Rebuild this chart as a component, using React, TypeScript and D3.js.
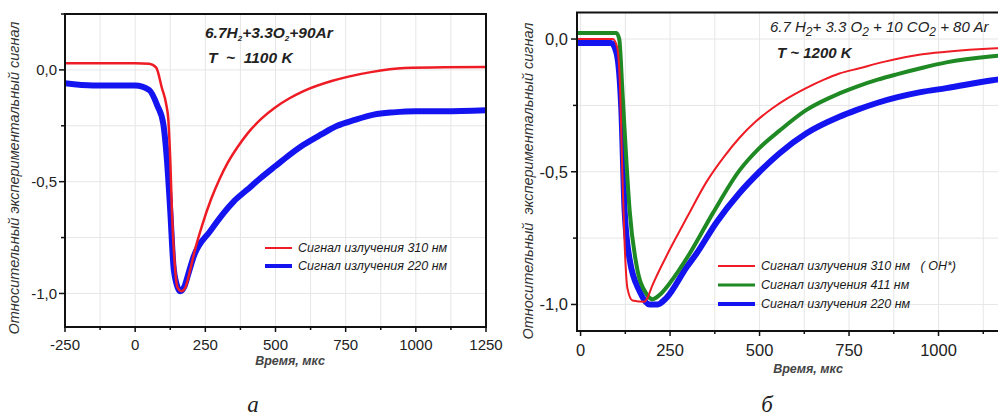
import { useEffect, useRef } from "react";
import * as d3 from "d3";

type Pt = [number, number];

// time (мкс), relative signal
const LEFT_310: Pt[] = [
  [-250, 0.03], [0, 0.03], [50, 0.028], [75, 0.01], [95, -0.08], [110, -0.15],
  [118, -0.22], [125, -0.4], [131, -0.63], [143, -0.9], [150, -0.97], [165, -0.99],
  [180, -0.97], [195, -0.9], [210, -0.82], [240, -0.69], [270, -0.58], [300, -0.49],
  [330, -0.415], [365, -0.345], [400, -0.285], [450, -0.218], [500, -0.167], [550, -0.127],
  [600, -0.095], [700, -0.05], [760, -0.03], [840, -0.01], [960, 0.008], [1100, 0.012],
  [1250, 0.013],
];
const LEFT_220: Pt[] = [
  [-250, -0.06], [-150, -0.07], [-50, -0.07], [0, -0.07], [50, -0.09], [79, -0.16],
  [100, -0.24], [113, -0.4], [125, -0.63], [136, -0.87], [148, -0.96], [160, -0.99],
  [175, -0.97], [190, -0.91], [207, -0.84], [268, -0.72], [350, -0.59], [400, -0.535],
  [446, -0.485], [500, -0.43], [550, -0.38], [600, -0.335], [661, -0.29], [720, -0.25],
  [779, -0.225], [850, -0.2], [920, -0.19], [1000, -0.185], [1100, -0.185], [1250, -0.18],
];
const RIGHT_310: Pt[] = [
  [-10, 0], [90, 0], [102, -0.03], [109, -0.14], [117, -0.52], [123, -0.77],
  [131, -0.94], [145, -0.985], [179, -0.99], [185, -0.98], [200, -0.93], [239, -0.82],
  [270, -0.74], [300, -0.665], [351, -0.54], [400, -0.445], [444, -0.372], [490, -0.31],
  [537, -0.26], [580, -0.222], [630, -0.185], [680, -0.153], [723, -0.13], [779, -0.11],
  [850, -0.085], [950, -0.058], [1022, -0.048], [1162, -0.035], [1250, -0.03],
];
const RIGHT_411: Pt[] = [
  [-10, 0.023], [100, 0.023], [108, 0.0], [117, -0.2], [128, -0.46], [137, -0.645],
  [156, -0.85], [184, -0.96], [201, -0.98], [220, -0.965], [249, -0.92], [304, -0.81],
  [370, -0.655], [444, -0.495], [500, -0.41], [556, -0.345], [630, -0.268], [723, -0.205],
  [770, -0.18], [830, -0.153], [883, -0.133], [950, -0.11], [1022, -0.088], [1151, -0.065],
  [1250, -0.055],
];
const RIGHT_220: Pt[] = [
  [-10, -0.015], [85, -0.015], [100, -0.05], [114, -0.27], [123, -0.645], [137, -0.83],
  [165, -0.95], [193, -1.0], [215, -1.0], [240, -0.975], [296, -0.86], [323, -0.81],
  [380, -0.69], [444, -0.58], [500, -0.5], [556, -0.43], [630, -0.356], [723, -0.293],
  [770, -0.268], [830, -0.24], [883, -0.22], [950, -0.2], [1022, -0.185], [1151, -0.155],
  [1250, -0.14],
];

const LEFT_X_TICKS = [-250, 0, 250, 500, 750, 1000, 1250];
const RIGHT_X_TICKS = [0, 250, 500, 750, 1000];
const Y_TICKS = [0, -0.5, -1];
const LEFT_LEGEND = ["Сигнал излучения 310 нм", "Сигнал излучения 220 нм"];
const RIGHT_LEGEND = ["Сигнал излучения 310 нм   ( OH*)", "Сигнал излучения 411 нм", "Сигнал излучения 220 нм"];

const RED = "#ee1c24";
const BLUE = "#1414f0";
const GREEN = "#1f8a24";
const SANS = "'Liberation Sans', Arial, sans-serif";

const fmtY = (d: number) => d3.format(".1f")(d).replace("−", "-").replace(".", ",");

export default function App() {
  const svgRef = useRef<SVGSVGElement>(null);

  useEffect(() => {
    if (!svgRef.current) return;
    const svg = d3.select(svgRef.current);
    svg.selectAll("*").remove();

    const panels = [
      {
        id: "a",
        x: d3.scaleLinear().domain([-250, 1250]).range([65, 486]),
        y: d3.scaleLinear().domain([-1.15, 0.25]).range([327, 14]),
        xTicks: LEFT_X_TICKS,
        tickSize: 15,
        yLabelX: 57,
        series: [
          { data: LEFT_310, color: RED, w: 2.5 },
          { data: LEFT_220, color: BLUE, w: 6 },
        ],
        legend: LEFT_LEGEND.map((t, i) => ({ text: t, color: [RED, BLUE][i], w: [2, 4][i] })),
        legX: 265, legLen: 27, legY: 248, legDy: 18, legFont: 12.5,
        titleX: 290, titleY: 365, yTitleX: 19, yTitleY: 178,
        yTitle: "Относительный экспериментальный сигнал",
        tickLabelY: 350,
        panelLabel: "а", panelX: 253,
      },
      {
        id: "b",
        x: d3.scaleLinear().domain([-10, 1250]).range([577, 1028]),
        y: d3.scaleLinear().domain([-1.1, 0.1]).range([331, 12.5]),
        xTicks: RIGHT_X_TICKS,
        tickSize: 16.5,
        yLabelX: 568,
        series: [
          { data: RIGHT_310, color: RED, w: 2 },
          { data: RIGHT_411, color: GREEN, w: 4 },
          { data: RIGHT_220, color: BLUE, w: 6 },
        ],
        legend: RIGHT_LEGEND.map((t, i) => ({ text: t, color: [RED, GREEN, BLUE][i], w: [2, 3, 4][i] })),
        legX: 718, legLen: 37, legY: 266, legDy: 19, legFont: 12.5,
        titleX: 808, titleY: 373, yTitleX: 533, yTitleY: 181,
        yTitle: "Относительный  экспериментальный сигнал",
        tickLabelY: 356,
        panelLabel: "б", panelX: 767,
      },
    ];

    panels.forEach((p) => {
      const [x0, x1] = p.x.range();
      const [y1, y0] = p.y.range();
      const g = svg.append("g");

      g.append("clipPath").attr("id", `clip-${p.id}`)
        .append("rect").attr("x", x0).attr("y", y0).attr("width", x1 - x0).attr("height", y1 - y0);

      // grid every 125 / 0.25
      const [dx0, dx1] = p.x.domain();
      const gx = d3.range(Math.ceil(dx0 / 125) * 125, dx1 + 1, 125);
      const gy = d3.range(-1, 0.26, 0.25).filter((v) => v >= p.y.domain()[0] && v <= p.y.domain()[1]);
      g.append("g").selectAll("line").data(gx).join("line")
        .attr("x1", (d) => p.x(d)).attr("x2", (d) => p.x(d)).attr("y1", y0).attr("y2", y1)
        .attr("stroke", "#e6e6e6").attr("stroke-width", 1);
      g.append("g").selectAll("line").data(gy).join("line")
        .attr("x1", x0).attr("x2", x1).attr("y1", (d) => p.y(d)).attr("y2", (d) => p.y(d))
        .attr("stroke", "#e6e6e6").attr("stroke-width", 1);

      // series
      const line = d3.line<Pt>().x((d) => p.x(d[0])).y((d) => p.y(d[1])).curve(d3.curveMonotoneX);
      const sg = g.append("g").attr("clip-path", `url(#clip-${p.id})`);
      [...p.series].reverse().forEach((s) => {
        sg.append("path").datum(s.data).attr("d", line)
          .attr("fill", "none").attr("stroke", s.color).attr("stroke-width", s.w)
          .attr("stroke-linejoin", "round");
      });

      // frame
      g.append("rect").attr("x", x0).attr("y", y0).attr("width", x1 - x0).attr("height", y1 - y0)
        .attr("fill", "none").attr("stroke", "#111").attr("stroke-width", 2);

      // x ticks
      const minorX = gx.filter((d) => d % 250 !== 0);
      const majorX = gx.filter((d) => d % 250 === 0);
      g.append("g").selectAll("line").data(majorX).join("line")
        .attr("x1", (d) => p.x(d)).attr("x2", (d) => p.x(d)).attr("y1", y1 - 1).attr("y2", y1 + 5)
        .attr("stroke", "#111").attr("stroke-width", 1.5);
      g.append("g").selectAll("line").data(minorX).join("line")
        .attr("x1", (d) => p.x(d)).attr("x2", (d) => p.x(d)).attr("y1", y1 - 1).attr("y2", y1 + 3)
        .attr("stroke", "#111").attr("stroke-width", 1.5);
      g.append("g").selectAll("text").data(p.xTicks).join("text")
        .attr("x", (d) => p.x(d)).attr("y", p.tickLabelY)
        .attr("text-anchor", "middle").attr("font-family", SANS).attr("font-size", p.tickSize)
        .attr("fill", "#222").text((d) => String(d));

      // y ticks
      const minorY = gy.filter((d) => !Y_TICKS.includes(d));
      g.append("g").selectAll("line").data(Y_TICKS).join("line")
        .attr("x1", x0 - 6).attr("x2", x0 + 1).attr("y1", (d) => p.y(d)).attr("y2", (d) => p.y(d))
        .attr("stroke", "#111").attr("stroke-width", 1.5);
      g.append("g").selectAll("line").data(minorY).join("line")
        .attr("x1", x0 - 4).attr("x2", x0 + 1).attr("y1", (d) => p.y(d)).attr("y2", (d) => p.y(d))
        .attr("stroke", "#111").attr("stroke-width", 1.5);
      g.append("g").selectAll("text").data(Y_TICKS).join("text")
        .attr("x", p.yLabelX).attr("y", (d) => p.y(d)).attr("dy", "0.35em")
        .attr("text-anchor", "end").attr("font-family", SANS).attr("font-size", p.tickSize)
        .attr("fill", "#222").text(fmtY);

      // axis titles
      g.append("text").attr("x", p.titleX).attr("y", p.titleY).attr("text-anchor", "middle")
        .attr("font-family", SANS).attr("font-size", 12.5).attr("font-style", "italic")
        .attr("font-weight", 600).attr("fill", "#444").text("Время, мкс");
      g.append("text")
        .attr("transform", `translate(${p.yTitleX},${p.yTitleY}) rotate(-90)`)
        .attr("text-anchor", "middle").attr("font-family", SANS).attr("font-size", 14.5)
        .attr("font-style", "italic").attr("fill", "#333").style("white-space", "pre")
        .text(p.yTitle);

      // legend
      p.legend.forEach((l, i) => {
        const yy = p.legY + i * p.legDy;
        g.append("line").attr("x1", p.legX).attr("x2", p.legX + p.legLen).attr("y1", yy).attr("y2", yy)
          .attr("stroke", l.color).attr("stroke-width", l.w);
        g.append("text").attr("x", p.legX + p.legLen + 6).attr("y", yy).attr("dy", "0.35em")
          .attr("font-family", SANS).attr("font-size", p.legFont).attr("font-style", "italic")
          .attr("fill", "#1a1a1a").style("white-space", "pre").text(l.text);
      });

      // panel letter
      svg.append("text").attr("x", p.panelX).attr("y", 412).attr("text-anchor", "middle")
        .attr("font-family", "'Liberation Serif', 'Times New Roman', serif").attr("font-style", "italic")
        .attr("font-size", 23).attr("fill", "#222").text(p.panelLabel);
    });

    // annotations
    const a1 = svg.append("text").attr("x", 205).attr("y", 38)
      .attr("font-family", SANS).attr("font-size", 15.5).attr("font-style", "italic")
      .attr("font-weight", 700).attr("fill", "#222");
    a1.append("tspan").text("6.7H");
    a1.append("tspan").attr("dy", 3).attr("font-size", 8).text("2");
    a1.append("tspan").attr("dy", -3).text("+3.3O");
    a1.append("tspan").attr("dy", 3).attr("font-size", 8).text("2");
    a1.append("tspan").attr("dy", -3).text("+90Ar");
    svg.append("text").attr("x", 208).attr("y", 63)
      .attr("font-family", SANS).attr("font-size", 15.5).attr("font-style", "italic")
      .attr("font-weight", 700).attr("fill", "#222").style("white-space", "pre").text("T  ~  1100 K");

    const a2 = svg.append("text").attr("x", 770).attr("y", 32)
      .attr("font-family", SANS).attr("font-size", 15).attr("font-style", "italic")
      .attr("fill", "#222");
    a2.append("tspan").text("6.7 H");
    a2.append("tspan").attr("dy", 4).attr("font-size", 12).text("2");
    a2.append("tspan").attr("dy", -4).text("+ 3.3 O");
    a2.append("tspan").attr("dy", 4).attr("font-size", 12).text("2");
    a2.append("tspan").attr("dy", -4).text(" + 10 CO");
    a2.append("tspan").attr("dy", 4).attr("font-size", 12).text("2");
    a2.append("tspan").attr("dy", -4).text(" + 80 Ar");
    svg.append("text").attr("x", 777).attr("y", 58)
      .attr("font-family", SANS).attr("font-size", 15).attr("font-style", "italic")
      .attr("font-weight", 700).attr("fill", "#222").text("T ~ 1200 K");
  }, []);

  return (
    <svg
      ref={svgRef}
      width={998}
      height={416}
      style={{ position: "absolute", left: 0, top: 0, background: "#fff", overflow: "hidden" }}
    />
  );
}
